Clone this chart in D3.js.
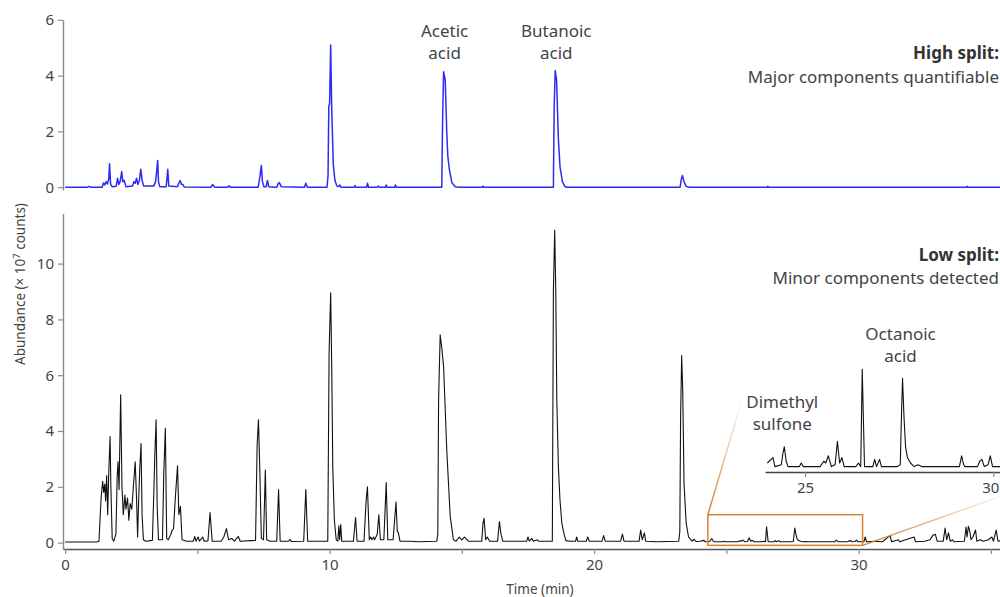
<!DOCTYPE html>
<html><head><meta charset="utf-8">
<script src="https://cdn.jsdelivr.net/npm/d3@7"></script>
<style>
body{margin:0;background:#fff;}
svg{display:block;}
text{font-family:"Noto Sans",sans-serif;}
</style>
</head><body>
<svg id="chart" width="1000" height="597"></svg>
<script>
// ---------- DATA ----------
// High split trace: [time (min), abundance (×10^7 counts)]
const highSplit = [
[0,0],[0.85,0],[0.9,0.03],[0.95,0],[1.4,0],[1.45,0.15],[1.5,0.08],[1.55,0.2],[1.6,0.12],[1.65,0.3],[1.68,0.84],[1.72,0.1],[1.78,0.02],
[1.93,0.03],[1.98,0.32],[2.03,0.1],[2.08,0.2],[2.14,0.56],[2.18,0.2],[2.23,0.25],[2.3,0.02],[2.55,0.04],[2.6,0.2],[2.65,0.14],[2.7,0.32],
[2.75,0.1],[2.81,0.25],[2.86,0.64],[2.91,0.25],[2.97,0.04],[3.35,0.04],[3.42,0.2],[3.46,0.55],[3.5,0.96],[3.53,0.2],[3.58,0.02],
[3.82,0.02],[3.85,0.3],[3.88,0.64],[3.92,0.04],[4.25,0.02],[4.3,0.15],[4.35,0.24],[4.4,0.1],[4.45,0.1],[4.5,0.01],[5.52,0],[5.58,0.1],
[5.65,0],[6.15,0],[6.2,0.05],[6.25,0],[7.3,0],[7.36,0.35],[7.42,0.78],[7.46,0.2],[7.52,0.02],[7.6,0.02],[7.65,0.24],[7.7,0.02],[8.0,0],
[8.05,0.12],[8.1,0.17],[8.17,0.02],[9.05,0],[9.1,0.14],[9.16,0],[9.9,0],[9.94,0.4],[9.97,2.9],[10.0,3.0],[10.04,5.1],[10.08,2.8],[10.14,0.8],
[10.2,0.25],[10.27,0.05],[10.34,0.02],[10.38,0.08],[10.43,0],[10.93,0],[10.96,0.06],[10.99,0],[11.4,0],[11.43,0.14],[11.47,0],
[11.8,0],[11.84,0.04],[11.88,0],[12.11,0],[12.14,0.08],[12.17,0],[12.46,0],[12.49,0.08],[12.52,0],[14.24,0],[14.27,2.35],[14.31,4.14],
[14.37,3.85],[14.43,1.94],[14.47,1.1],[14.53,0.62],[14.62,0.17],[14.75,0.02],[14.9,0],[15.77,0],[15.8,0.04],[15.83,0],[18.46,0],
[18.49,2.9],[18.53,4.18],[18.58,3.85],[18.65,1.7],[18.71,0.74],[18.8,0.2],[18.9,0.02],[19.0,0],[23.25,0],[23.3,0.3],[23.34,0.42],
[23.4,0.2],[23.48,0.03],[23.6,0],[26.54,0],[26.57,0.03],[26.6,0],[34.07,0],[34.1,0.03],[34.13,0],[36,0]
];

// Low split trace: [time (min), abundance (×10^7 counts)]
const lowSplit = [
[0,0.02],[1.2,0.02],[1.28,0.05],[1.36,1.6],[1.42,2.2],[1.46,1.8],[1.5,2.1],[1.53,1.5],[1.57,2.4],[1.61,1.0],[1.65,2.5],[1.7,3.8],
[1.73,2.0],[1.78,0.15],[1.84,0.05],[1.92,0.3],[1.97,2.4],[2.0,2.9],[2.04,1.9],[2.1,5.3],[2.15,2.0],[2.2,1.0],[2.26,1.7],[2.3,1.2],
[2.36,1.6],[2.41,0.8],[2.46,1.4],[2.52,1.2],[2.58,2.0],[2.65,2.9],[2.7,1.6],[2.74,0.2],[2.78,1.5],[2.82,2.6],[2.87,3.55],[2.91,1.0],
[2.96,0.1],[3.05,0.05],[3.3,0.08],[3.36,2.0],[3.39,3.1],[3.44,4.4],[3.48,1.3],[3.53,0.1],[3.68,0.1],[3.73,2.5],[3.79,4.1],[3.84,0.15],
[3.9,0.1],[4.0,0.3],[4.05,0.45],[4.1,0.5],[4.16,1.5],[4.25,2.75],[4.3,1.0],[4.36,1.3],[4.42,0.1],[4.6,0.05],[4.85,0.05],[4.9,0.22],
[4.95,0.05],[5.03,0.2],[5.08,0.05],[5.2,0.2],[5.26,0.05],[5.4,0.06],[5.48,1.08],[5.56,0.05],[5.9,0.05],[6.0,0.2],[6.1,0.5],[6.18,0.1],
[6.3,0.15],[6.4,0.05],[6.55,0.22],[6.62,0.05],[7.2,0.08],[7.26,3.5],[7.31,4.4],[7.35,3.0],[7.42,0.15],[7.5,0.1],[7.57,2.6],[7.62,0.1],
[7.75,0.05],[8.0,0.05],[8.07,1.9],[8.13,0.05],[8.45,0.05],[8.5,0.12],[8.55,0.04],[9.02,0.05],[9.1,1.9],[9.17,0.05],[9.5,0.05],
[9.93,0.05],[9.98,6.8],[10.04,8.95],[10.08,6.3],[10.12,2.7],[10.18,0.8],[10.25,0.1],[10.31,0.05],[10.35,0.6],[10.38,0.1],[10.42,0.65],
[10.46,0.05],[10.9,0.05],[10.98,0.9],[11.04,0.05],[11.3,0.05],[11.38,1.5],[11.43,2.0],[11.5,0.1],[11.55,0.2],[11.6,0.1],[11.66,0.2],
[11.7,0.1],[11.8,0.3],[11.86,1.0],[11.92,0.1],[12.05,0.1],[12.14,2.15],[12.2,0.1],[12.4,0.1],[12.51,1.45],[12.56,0.4],[12.6,0.35],
[12.66,0.05],[13.0,0.05],[13.4,0.03],[14.05,0.05],[14.09,0.3],[14.12,5.1],[14.18,7.45],[14.25,6.9],[14.31,6.3],[14.43,3.3],[14.56,0.93],
[14.68,0.1],[14.78,0.05],[14.9,0.2],[15.0,0.1],[15.1,0.2],[15.25,0.05],[15.75,0.05],[15.8,0.7],[15.84,0.87],[15.9,0.1],[15.96,0.2],
[16.05,0.05],[16.35,0.05],[16.42,0.75],[16.48,0.3],[16.55,0.05],[17.45,0.05],[17.5,0.2],[17.55,0.05],[17.65,0.15],[17.7,0.05],
[17.85,0.1],[17.9,0.05],[18.42,0.05],[18.46,9.0],[18.51,11.2],[18.55,9.0],[18.59,5.1],[18.65,2.7],[18.71,1.52],[18.78,0.7],
[18.84,0.4],[18.93,0.07],[19.1,0.05],[19.3,0.05],[19.34,0.2],[19.38,0.05],[19.7,0.05],[19.76,0.2],[19.82,0.05],[20.3,0.05],
[20.36,0.25],[20.42,0.05],[21.0,0.05],[21.07,0.3],[21.13,0.05],[21.7,0.05],[21.76,0.45],[21.82,0.1],[21.9,0.35],[21.95,0.05],
[22.35,0.03],[23.2,0.05],[23.24,0.4],[23.27,4.5],[23.31,6.7],[23.35,5.46],[23.4,2.1],[23.48,0.7],[23.57,0.2],[23.7,0.05],
[23.78,0.12],[23.85,0.04],[24.0,0.05],[24.15,0.08],[24.2,0.03],[24.37,0.04],[24.41,0.1],[24.45,0.14],[24.5,0.06],[24.55,0.03],[24.85,0.03],[24.9,0.05],
[24.95,0.03],[25.4,0.03],[25.5,0.06],[25.55,0.05],[25.62,0.09],[25.7,0.03],[25.8,0.04],[25.86,0.17],[25.92,0.05],[25.98,0.08],
[26.04,0.03],[26.35,0.03],[26.42,0.05],[26.48,0.03],[26.5,0.3],[26.52,0.57],[26.55,0.3],[26.58,0.03],[26.8,0.03],[26.85,0.07],[26.9,0.03],[26.98,0.07],
[27.03,0.03],[27.45,0.03],[27.53,0.04],[27.56,0.3],[27.59,0.52],[27.63,0.3],[27.67,0.14],[27.72,0.08],[27.8,0.05],[27.9,0.03],[28.0,0.04],[28.1,0.03],
[28.7,0.03],[29.1,0.03],[29.13,0.06],[29.16,0.09],[29.2,0.05],[29.24,0.03],[29.58,0.03],[29.64,0.06],[29.7,0.07],[29.76,0.03],[29.86,0.04],[29.92,0.09],
[29.98,0.03],[30.2,0.03],[30.25,0.2],[30.3,0.03],[30.6,0.05],[30.9,0.03],[31.19,0.25],[31.25,0.03],[31.5,0.1],[31.55,0.03],
[32.1,0.2],[32.15,0.03],[32.5,0.05],[32.7,0.1],[32.8,0.25],[32.9,0.3],[32.97,0.05],[33.2,0.05],[33.27,0.52],[33.33,0.1],[33.4,0.35],
[33.46,0.05],[33.55,0.1],[33.6,0.03],[34.0,0.05],[34.06,0.56],[34.1,0.2],[34.15,0.58],[34.2,0.42],[34.25,0.1],[34.32,0.2],
[34.42,0.45],[34.47,0.05],[34.6,0.1],[34.7,0.05],[34.9,0.1],[35.04,0.2],[35.1,0.05],[35.2,0.45],[35.27,0.05],[35.6,0.1],[36,0.05]
];

const xTicks = [0,5,10,15,20,25,30,35];
const xTickLabels = [0,10,20,30];
const yTicksHigh = [0,2,4,6];
const yTicksLow = [0,2,4,6,8,10];
const insetTicks = [25,30];
const zoomTime = [24.3, 30.15];
const zoomAbundance = [-0.1, 1.0];
const topPeakNames = [["Acetic","acid",14.31],["Butanoic","acid",18.53]];
const insetPeakNames = [["Dimethyl","sulfone",24.45],["Octanoic","acid",27.59]];
const panelTitles = [["High split:","Major components quantifiable"],["Low split:","Minor components detected"]];

// ---------- DRAWING ----------
const svg = d3.select("#chart");
const axisColor = "#8a8a8a", textColor = "#444", orange = "#d8812f";
const fmt = d3.format("d");

const x = d3.scaleLinear().domain([-0.08, 36]).range([63, 63 + 36.08*26.45]);
const yTop = d3.scaleLinear().domain([-0.1, 6]).range([190, 19.8]);
const yLow = d3.scaleLinear().domain([-0.23, 11.8]).range([549, 213.4]);
const xIn = d3.scaleLinear().domain([23.94, 30.4]).range([805 - 1.06*37.66, 805 + 5.4*37.66]);
const yIn = d3.scaleLinear().domain([0, 0.6]).range([472, 364]);

function styleAxis(g, fs){
  g.select(".domain").attr("stroke", axisColor).attr("stroke-width", 1.4);
  g.selectAll(".tick line").attr("stroke", axisColor).attr("stroke-width", 1.2);
  g.selectAll(".tick text").attr("fill", textColor).style("font-size", fs+"px")
    .style("font-family", '"Noto Sans",sans-serif');
}

// top y axis
svg.append("g").attr("transform","translate(63,0)")
  .call(d3.axisLeft(yTop).tickValues(yTicksHigh).tickFormat(fmt).tickSize(5).tickPadding(4).tickSizeOuter(0))
  .call(g=>styleAxis(g,15));
// bottom y axis
svg.append("g").attr("transform","translate(63,0)")
  .call(d3.axisLeft(yLow).tickValues(yTicksLow).tickFormat(fmt).tickSize(5).tickPadding(4).tickSizeOuter(0))
  .call(g=>styleAxis(g,15));
// bottom x axis
svg.append("g").attr("transform","translate(0,549)")
  .call(d3.axisBottom(x).tickValues(xTicks).tickSize(5).tickPadding(5).tickSizeOuter(0)
    .tickFormat(d => xTickLabels.includes(d) ? fmt(d) : ""))
  .call(g=>styleAxis(g,15))
  .call(g=>g.select(".domain").attr("stroke","#555"));

// traces
const lineTop = d3.line().x(d=>x(d[0])).y(d=>yTop(d[1]));
const lineLow = d3.line().x(d=>x(d[0])).y(d=>yLow(d[1]));
svg.append("path").datum(highSplit).attr("d", lineTop)
  .attr("fill","none").attr("stroke","#2b2bf2").attr("stroke-width",1.5).attr("stroke-linejoin","round");
svg.append("path").datum(lowSplit).attr("d", lineLow)
  .attr("fill","none").attr("stroke","#111").attr("stroke-width",1.1).attr("stroke-linejoin","round");

// axis titles
svg.append("text").attr("transform","translate(25,284) rotate(-90)")
  .attr("text-anchor","middle").attr("fill",textColor).style("font-size","13.5px")
  .call(t=>{ t.append("tspan").text("Abundance (× 10");
             t.append("tspan").attr("dy",-5).style("font-size","9.5px").text("7");
             t.append("tspan").attr("dy",5).text(" counts)"); });
svg.append("text").attr("x",540).attr("y",594).attr("text-anchor","middle")
  .attr("fill",textColor).style("font-size","13.5px").text("Time (min)");

// top peak labels
topPeakNames.forEach(p=>{
  const t = svg.append("text").attr("text-anchor","middle").attr("fill",textColor).style("font-size","17px");
  t.append("tspan").attr("x", x(p[2])+1).attr("y",37).text(p[0]);
  t.append("tspan").attr("x", x(p[2])+1).attr("y",59).text(p[1]);
});

// panel titles
[[59,83],[261,284]].forEach((ys,i)=>{
  svg.append("text").attr("x",999).attr("y",ys[0]).attr("text-anchor","end")
    .attr("fill","#333").style("font-size","17px").style("font-weight","bold").text(panelTitles[i][0]);
  svg.append("text").attr("x",999).attr("y",ys[1]).attr("text-anchor","end")
    .attr("fill",textColor).style("font-size","17px").text(panelTitles[i][1]);
});

// zoom box + connectors
const defs = svg.append("defs");
function grad(id, x1,y1,x2,y2){
  const g = defs.append("linearGradient").attr("id",id).attr("gradientUnits","userSpaceOnUse")
    .attr("x1",x1).attr("y1",y1).attr("x2",x2).attr("y2",y2);
  g.append("stop").attr("offset",0).attr("stop-color",orange).attr("stop-opacity",1);
  g.append("stop").attr("offset",1).attr("stop-color",orange).attr("stop-opacity",0);
}
const bx0 = x(zoomTime[0]), bx1 = x(zoomTime[1]), by0 = yLow(zoomAbundance[1]), by1 = yLow(zoomAbundance[0]);
grad("g1", bx0, by0, 742, 400);
grad("g2", bx1, by1, 1010, 493);
svg.append("line").attr("x1",bx0).attr("y1",by0).attr("x2",742).attr("y2",400)
  .attr("stroke","url(#g1)").attr("stroke-width",1.5);
svg.append("line").attr("x1",bx1).attr("y1",by1).attr("x2",1010).attr("y2",493)
  .attr("stroke","url(#g2)").attr("stroke-width",1.5);
svg.append("rect").attr("x",bx0).attr("y",by0).attr("width",bx1-bx0).attr("height",by1-by0)
  .attr("fill","none").attr("stroke",orange).attr("stroke-width",1.5);

// inset
const insetData = lowSplit.filter(d=>d[0]>=23.94 && d[0]<=30.4);
const lineIn = d3.line().x(d=>xIn(d[0])).y(d=>yIn(d[1]));
svg.append("path").datum(insetData).attr("d", lineIn)
  .attr("fill","none").attr("stroke","#111").attr("stroke-width",1.1).attr("stroke-linejoin","round");
svg.append("g").attr("transform","translate(0,472)")
  .call(d3.axisBottom(xIn).tickValues(insetTicks).tickFormat(fmt).tickSize(5).tickPadding(5).tickSizeOuter(0))
  .call(g=>styleAxis(g,15))
  .call(g=>g.select(".domain").attr("stroke","#444"))
  .call(g=>g.selectAll(".tick text").filter(d=>d===30).attr("text-anchor","end").attr("x",5.5));

insetPeakNames.forEach((p,i)=>{
  const t = svg.append("text").attr("text-anchor","middle").attr("fill",textColor).style("font-size","17px");
  const ys = i===0 ? [408,430] : [340,362];
  t.append("tspan").attr("x", xIn(p[2])-2).attr("y",ys[0]).text(p[0]);
  t.append("tspan").attr("x", xIn(p[2])-2).attr("y",ys[1]).text(p[1]);
});
</script>
</body></html>
